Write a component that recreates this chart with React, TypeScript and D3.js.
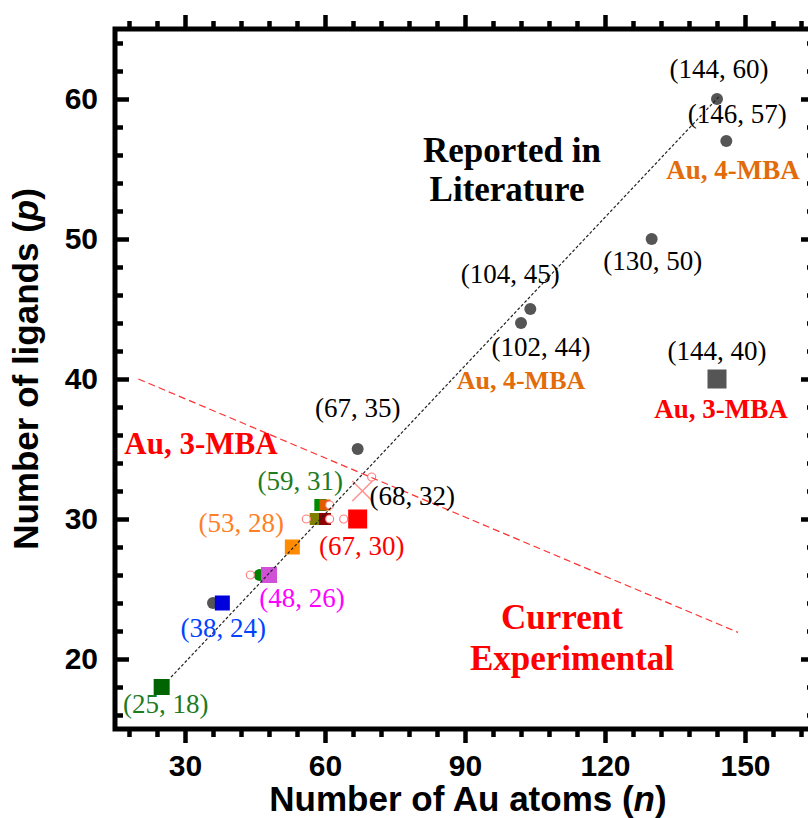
import React, { useRef, useEffect } from 'react';
import { select, scaleLinear, axisBottom, axisTop, axisLeft, axisRight, range, line } from 'd3';

// reported clusters (grey dots)
const litN = [144, 146, 130, 104, 102, 67, 36];
const litP = [60, 57, 50, 45, 44, 35, 24];
const litLabeled = [true, true, true, true, true, true, false];

// current experimental clusters (squares)
const expN = [25, 38, 48, 53, 59, 60, 58, 60, 67, 144];
const expP = [18, 24, 26, 28, 31, 31, 30, 30, 30, 40];
const expColor = ['#006400', '#0000dd', '#d050d8', '#ff8c00', '#008a00', '#e05a00', '#808000', '#8b0000', '#ff0000', '#555555'];
const expSize = [16, 15, 16, 15, 12, 11, 12, 12, 19, 19];
const expLabeled = [true, true, true, true, true, false, false, false, true, true];
const expLabelColor = ['#1e7b1e', '#0044ff', '#ff00ff', '#ff7f27', '#1e7b1e', '', '', '', '#ff0000', '#000000'];

// small markers
const greenDotN = [46];
const greenDotP = [26];
const pinkRingN = [44, 56, 61, 64, 61, 70];
const pinkRingP = [26, 30, 30, 30, 31, 33];
const crossN = [68];
const crossP = [32];

// fitted trend and dividing line
const trendN = [27, 144.5];
const trendP = [18.7, 60.2];
const divideN = [20, 148.5];
const divideP = [40, 21.9];

const xMajor = [30, 60, 90, 120, 150];
const yMajor = [20, 30, 40, 50, 60];

const SERIF = '"Liberation Serif", "Times New Roman", serif';
const SANS = '"Liberation Sans", Arial, sans-serif';

// label offsets (px) for each coordinate label
const litOff = [[2, -21], [11, -18], [1, 31], [-20, -26], [20, 33], [0, -32], [0, 0]];
const expOff = [[4, 26], [1, 34], [33, 32], [-51, -15], [-20, -15], [0, 0], [0, 0], [0, 0], [4, 36], [0, -19]];

export default function App() {
  const axRef = useRef<SVGGElement>(null);
  const x = scaleLinear().domain([15, 165]).range([115, 815]);
  const y = scaleLinear().domain([15, 65]).range([729, 29]);

  useEffect(() => {
    const g = select(axRef.current);
    g.selectAll('*').remove();
    const xMinor = range(18, 165, 6).filter(v => v % 30 !== 0);
    const yMinor = range(16, 65, 2).filter(v => v % 10 !== 0);
    const fmt = (d: any) => String(d);
    const none = () => '';

    const add = (axis: any, tr: string) => {
      const a = g.append('g').attr('transform', tr).call(axis);
      a.select('.domain').remove();
      a.selectAll('line').attr('stroke', '#000').attr('stroke-width', 4.5);
      a.selectAll('text')
        .attr('fill', '#000')
        .style('font-family', SANS)
        .style('font-weight', 'bold')
        .style('font-size', '30px');
      a.attr('font-size', null).attr('font-family', null);
      return a;
    };

    add(axisBottom(x).tickValues(xMajor).tickSize(14).tickPadding(12).tickFormat(fmt), 'translate(0,729)');
    add(axisBottom(x).tickValues(xMinor).tickSize(8).tickFormat(none), 'translate(0,729)');
    add(axisTop(x).tickValues(xMajor).tickSize(14).tickFormat(none), 'translate(0,29)');
    add(axisTop(x).tickValues(xMinor).tickSize(8).tickFormat(none), 'translate(0,29)');
    add(axisLeft(y).tickValues(yMajor).tickSize(-14).tickPadding(17).tickFormat(fmt), 'translate(115,0)');
    add(axisLeft(y).tickValues(yMinor).tickSize(-8).tickFormat(none), 'translate(115,0)');
    add(axisRight(y).tickValues(yMajor).tickSize(-14).tickFormat(none), 'translate(815,0)');
    add(axisRight(y).tickValues(yMinor).tickSize(-8).tickFormat(none), 'translate(815,0)');
  }, []);

  const trendPath = line<number>().x(i => x(trendN[i])).y(i => y(trendP[i]))([0, 1]) || '';
  const dividePath = line<number>().x(i => x(divideN[i])).y(i => y(divideP[i]))([0, 1]) || '';

  const coord = (n: number, p: number) => `(${n}, ${p})`;

  return (
    <svg width={808} height={818} style={{ position: 'absolute', left: 0, top: 0, background: '#fff' }}>
      {/* markers */}
      {litN.map((n, i) => (
        <circle key={'l' + i} cx={x(n)} cy={y(litP[i])} r={6} fill="#555555" />
      ))}
      {greenDotN.map((n, i) => (
        <circle key={'g' + i} cx={x(n)} cy={y(greenDotP[i])} r={6} fill="#008000" />
      ))}
      {expN.map((n, i) => (
        <rect key={'e' + i} x={x(n) - expSize[i] / 2} y={y(expP[i]) - expSize[i] / 2}
          width={expSize[i]} height={expSize[i]} fill={expColor[i]} />
      ))}
      {pinkRingN.map((n, i) => (
        <circle key={'p' + i} cx={x(n)} cy={y(pinkRingP[i])} r={4} fill="#fff" stroke="#ff8080" strokeWidth={1.2} />
      ))}
      {crossN.map((n, i) => (
        <g key={'c' + i} stroke="#ff9090" strokeWidth={1.5}>
          <line x1={x(n) - 10} y1={y(crossP[i]) - 10} x2={x(n) + 10} y2={y(crossP[i]) + 10} />
          <line x1={x(n) - 10} y1={y(crossP[i]) + 10} x2={x(n) + 10} y2={y(crossP[i]) - 10} />
        </g>
      ))}

      {/* lines */}
      <path d={trendPath} fill="none" stroke="#222" strokeWidth={1.2} strokeDasharray="3,2" />
      <path d={dividePath} fill="none" stroke="#ff3030" strokeWidth={1.2} strokeDasharray="7,4" />

      {/* coordinate labels */}
      <g fontFamily={SERIF} fontSize={27} textAnchor="middle">
        {litN.map((n, i) => litLabeled[i] && (
          <text key={'lt' + i} x={x(n) + litOff[i][0]} y={y(litP[i]) + litOff[i][1]} fill="#000">{coord(n, litP[i])}</text>
        ))}
        {expN.map((n, i) => expLabeled[i] && (
          <text key={'et' + i} x={x(n) + expOff[i][0]} y={y(expP[i]) + expOff[i][1]} fill={expLabelColor[i]}>{coord(n, expP[i])}</text>
        ))}
        {crossN.map((n, i) => (
          <text key={'ct' + i} x={x(n) + 50} y={y(crossP[i]) + 14} fill="#000">{coord(n, crossP[i])}</text>
        ))}
      </g>

      {/* annotations */}
      <g fontFamily={SERIF} fontWeight="bold" textAnchor="middle">
        <text x={512} y={162} fontSize={35} fill="#000">Reported in</text>
        <text x={507} y={201} fontSize={35} fill="#000">Literature</text>
        <text x={562} y={629} fontSize={35} fill="#ff0000">Current</text>
        <text x={572} y={670} fontSize={35} fill="#ff0000">Experimental</text>
        <text x={733} y={179} fontSize={27} fill="#e26b0a">Au, 4-MBA</text>
        <text x={521} y={389} fontSize={26} fill="#e26b0a">Au, 4-MBA</text>
        <text x={721} y={418} fontSize={27} fill="#ff0000">Au, 3-MBA</text>
        <text x={201} y={454} fontSize={31} fill="#ff0000">Au, 3-MBA</text>
      </g>

      {/* frame and axes */}
      <rect x={115} y={29} width={700} height={700} fill="none" stroke="#000" strokeWidth={5} />
      <g ref={axRef} />

      {/* axis titles */}
      <text x={468} y={811} textAnchor="middle" fontFamily={SANS} fontWeight="bold" fontSize={35}>
        Number of Au atoms (<tspan fontStyle="italic">n</tspan>)
      </text>
      <text transform="translate(38,369) rotate(-90)" textAnchor="middle" fontFamily={SANS} fontWeight="bold" fontSize={35}>
        Number of ligands (<tspan fontStyle="italic">p</tspan>)
      </text>
    </svg>
  );
}
